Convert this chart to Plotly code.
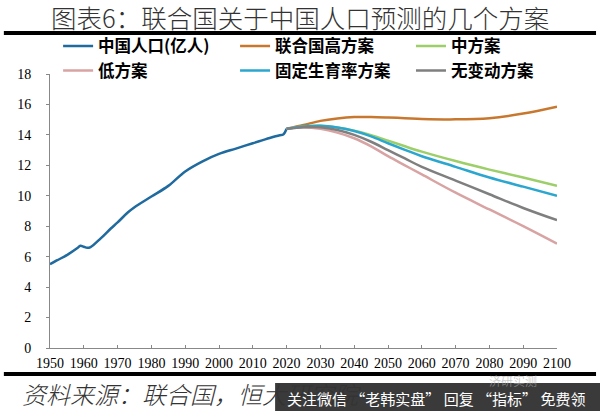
import plotly.graph_objects as go

years_hist = [1950, 1952, 1955, 1958, 1959, 1960, 1961, 1962, 1965, 1968, 1970, 1973, 1975, 1980, 1985, 1990,
              1995, 2000, 2005, 2010, 2015, 2018, 2019, 2020]
china = [5.5, 5.75, 6.1, 6.55, 6.72, 6.65, 6.58, 6.63, 7.2, 7.85, 8.25, 8.9, 9.25, 9.95, 10.65, 11.6,
         12.25, 12.75, 13.1, 13.45, 13.8, 13.98, 14.02, 14.4]

years_proj = [2020, 2025, 2030, 2035, 2040, 2045, 2050, 2055, 2060, 2070, 2080, 2090, 2100]
high = [14.4, 14.65, 14.92, 15.08, 15.17, 15.17, 15.14, 15.1, 15.05, 15.02, 15.1, 15.4, 15.85]
medium = [14.4, 14.55, 14.6, 14.48, 14.28, 13.98, 13.62, 13.25, 12.9, 12.28, 11.72, 11.2, 10.65]
low = [14.4, 14.5, 14.4, 14.15, 13.78, 13.25, 12.6, 12.0, 11.4, 10.2, 9.1, 8.0, 6.85]
fixed = [14.4, 14.55, 14.6, 14.48, 14.25, 13.9, 13.45, 13.02, 12.6, 11.9, 11.2, 10.6, 10.0]
constant = [14.4, 14.5, 14.5, 14.32, 14.0, 13.55, 13.0, 12.45, 11.9, 11.0, 10.1, 9.2, 8.4]

year_ticks = list(range(1950, 2101, 10))
value_ticks = list(range(0, 19, 2))


def add_line(x, y, name, color, legend):
    fig.add_trace(go.Scatter(x=x, y=y, name=name, mode="lines", legend=legend,
                             line=dict(color=color, width=2.5, shape="spline")))


fig = go.Figure()
add_line(years_hist, china, "中国人口(亿人)", "#1f6a9e", "legend")
add_line(years_proj, high, "联合国高方案", "#c8782e", "legend2")
add_line(years_proj, medium, "中方案", "#9ccf6a", "legend3")
add_line(years_proj, low, "低方案", "#d8a3a3", "legend")
add_line(years_proj, fixed, "固定生育率方案", "#2ba6cf", "legend2")
add_line(years_proj, constant, "无变动方案", "#7f7f7f", "legend3")

fig.update_xaxes(range=[1950, 2100], tickvals=year_ticks, ticks="inside", ticklen=3, tickcolor="#888888",
                 showgrid=False, showline=True, linecolor="#888888", zeroline=False, ticklabelstandoff=2,
                 tickfont=dict(family="Liberation Serif", size=14, color="black"))
fig.update_yaxes(range=[0, 18], tickvals=value_ticks, ticks="outside", ticklen=3, tickcolor="#888888",
                 showgrid=False, showline=True, linecolor="#888888", zeroline=False, ticklabelstandoff=12,
                 tickfont=dict(family="Liberation Serif", size=14, color="black"))

fig.add_shape(type="line", xref="paper", yref="paper", x0=-0.091, x1=1.077, y0=1.15, y1=1.15,
              line=dict(color="black", width=4))
fig.add_shape(type="line", xref="paper", yref="paper", x0=-0.091, x1=1.077, y0=-0.095, y1=-0.095,
              line=dict(color="black", width=4))
fig.add_shape(type="rect", xref="paper", yref="paper", x0=0.444, x1=1.09, y0=-0.24, y1=-0.128,
              fillcolor="#3a3a3a", line=dict(width=0), layer="above")

fig.add_annotation(text="图表6：联合国关于中国人口预测的几个方案", xref="paper", yref="paper", x=0.493, y=1.211,
                   yanchor="middle", showarrow=False,
                   font=dict(family="Noto Sans CJK SC", size=25.5, color="#333333", weight=300))
fig.add_annotation(text="<i>资料来源：联合国，恒大研究院</i>", xref="paper", yref="paper", x=-0.06, y=-0.165,
                   xanchor="left", yanchor="middle", showarrow=False,
                   font=dict(family="Noto Sans CJK SC", size=24, color="#333333", weight=300))
fig.add_annotation(text="济研实测", xref="paper", yref="paper", x=0.965, y=-0.118,
                   yanchor="middle", showarrow=False,
                   font=dict(family="Noto Sans CJK SC", size=12, color="rgba(170,170,170,0.6)"))
fig.add_annotation(text="关注微信 “老韩实盘” 回复 “指标” 免费领", xref="paper", yref="paper", x=1.06, y=-0.183,
                   xanchor="right", yanchor="middle", showarrow=False,
                   font=dict(family="Noto Sans CJK SC", size=15, color="white"))

legend_font = dict(family="Noto Sans CJK SC", size=16.5, color="black", weight="bold")
legend_base = dict(orientation="v", y=0.95, xanchor="left", yanchor="bottom", itemwidth=30, tracegroupgap=0,
                   font=legend_font, bgcolor="rgba(0,0,0,0)", borderwidth=0)

fig.update_layout(
    width=600, height=411,
    margin=dict(l=50, r=43, t=74, b=63, autoexpand=False),
    plot_bgcolor="white", paper_bgcolor="white",
    showlegend=True,
    legend=dict(x=0.016, **legend_base),
    legend2=dict(x=0.365, **legend_base),
    legend3=dict(x=0.712, **legend_base),
)

fig.write_html("out.html", post_script="document.body.style.margin='0';", config=dict(displayModeBar=False))
